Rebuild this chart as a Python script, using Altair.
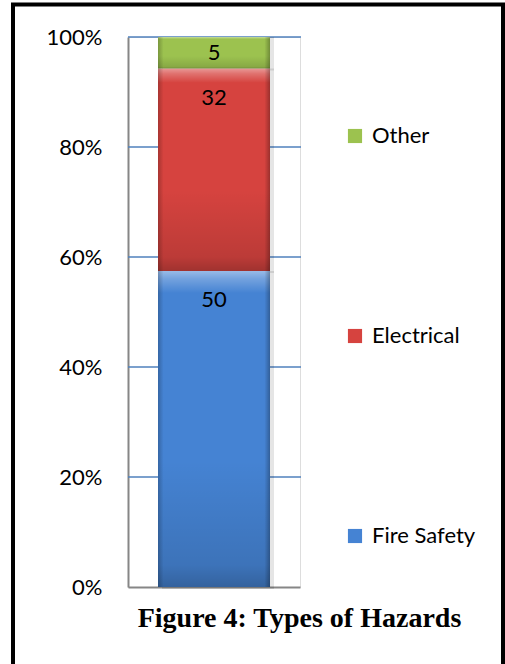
import altair as alt
import pandas as pd

# Hazard categories, counts and fill colours (bottom to top of the stack)
hazards = ["Fire Safety", "Electrical", "Other"]
counts = [50, 32, 5]
fills = ["#4583d3", "#d6433f", "#9cc24f"]
tick_values = [0, 0.2, 0.4, 0.6, 0.8, 1.0]
legend_order = ["Other", "Electrical", "Fire Safety"]
caption = "Figure 4: Types of Hazards"

df = pd.DataFrame({
    "group": ["Hazards"] * len(hazards),
    "hazard": hazards,
    "count": counts,
    "rank": list(range(len(hazards))),
})
grid_df = pd.DataFrame({"tick": tick_values[1:]})

color_scale = alt.Scale(
    domain=legend_order,
    range=[fills[hazards.index(h)] for h in legend_order],
)

x_axis = alt.Axis(labels=False, ticks=False, title=None, grid=False,
                  domainColor="#868686", domainWidth=2)
y_axis = alt.Axis(
    format=".0%", values=tick_values, title=None, ticks=False, grid=False,
    domainColor="#868686", domainWidth=2,
    labelFont="Lato", labelFontSize=22, labelColor="#000000",
    labelPadding=26,
)
x_enc = alt.X("group:N", axis=x_axis)
y_scale = alt.Scale(domain=[0, 1])

# Horizontal gridlines
grid = alt.Chart(grid_df).mark_rule(color="#4f81bd", strokeWidth=1.6).encode(
    y=alt.Y("tick:Q", scale=y_scale, axis=y_axis),
    x=alt.value(0),
    x2=alt.value(173),
)

base = alt.Chart(df).transform_stack(
    stack="count",
    as_=["y0", "y1"],
    groupby=["group"],
    offset="normalize",
    sort=[alt.SortField("rank", order="ascending")],
)

# Soft drop shadow behind the column
shadow = base.mark_bar(size=112, xOffset=4, yOffset=2, fill="#000000", opacity=0.10).encode(
    x=x_enc, y=alt.Y("y0:Q", scale=y_scale, axis=y_axis), y2="y1:Q"
)

bars = base.mark_bar(size=112, strokeWidth=0).encode(
    x=x_enc,
    y=alt.Y("y0:Q", scale=y_scale, axis=y_axis),
    y2="y1:Q",
    color=alt.Color(
        "hazard:N",
        scale=color_scale,
        legend=alt.Legend(
            title=None, orient="none", legendX=216, legendY=88,
            symbolType="square", symbolSize=200, symbolStrokeWidth=0,
            symbolOpacity=1, labelFont="Lato", labelFontSize=22,
            labelColor="#000000", labelOffset=6, rowPadding=178,
        ),
    ),
)

# Bevel shading: light top edge, darker lower edge
shade_v = base.mark_bar(
    size=112,
    fill=alt.LinearGradient(
        gradient="linear", x1=0, x2=0, y1=0, y2=1,
        stops=[
            alt.GradientStop(color="rgba(255,255,255,0.45)", offset=0),
            alt.GradientStop(color="rgba(255,255,255,0.25)", offset=0.025),
            alt.GradientStop(color="rgba(255,255,255,0.0)", offset=0.07),
            alt.GradientStop(color="rgba(0,0,0,0.0)", offset=0.6),
            alt.GradientStop(color="rgba(0,0,0,0.12)", offset=0.93),
            alt.GradientStop(color="rgba(0,0,0,0.25)", offset=1),
        ],
    ),
).encode(x=x_enc, y=alt.Y("y0:Q", scale=y_scale, axis=y_axis), y2="y1:Q")

# Bevel shading: darker left and right edges
shade_h = base.mark_bar(
    size=112,
    fill=alt.LinearGradient(
        gradient="linear", x1=0, x2=1, y1=0, y2=0,
        stops=[
            alt.GradientStop(color="rgba(0,0,0,0.22)", offset=0),
            alt.GradientStop(color="rgba(0,0,0,0.0)", offset=0.05),
            alt.GradientStop(color="rgba(0,0,0,0.0)", offset=0.95),
            alt.GradientStop(color="rgba(0,0,0,0.28)", offset=1),
        ],
    ),
).encode(x=x_enc, y=alt.Y("y0:Q", scale=y_scale, axis=y_axis), y2="y1:Q")

# Value labels sit near the top of each segment, centred in short segments
labels = base.transform_calculate(
    pos="max(datum.y1 - 0.053, (datum.y0 + datum.y1) / 2)"
).mark_text(font="Lato", fontSize=22, color="#000000", baseline="middle").encode(
    x=x_enc,
    y=alt.Y("pos:Q", scale=y_scale, axis=y_axis),
    text="count:Q",
)

title_text = alt.Chart(pd.DataFrame({"k": [0]})).mark_text(
    font="Liberation Serif", fontSize=28, fontWeight="bold", color="#000000",
    align="center", baseline="alphabetic",
).encode(x=alt.value(171.5), y=alt.value(590), text=alt.value(caption))

frame = alt.Chart(pd.DataFrame({"k": [0]})).mark_rect(
    fill=None, stroke="#000000", strokeWidth=4
).encode(
    x=alt.value(-115), x2=alt.value(375), y=alt.value(-32.5), y2=alt.value(640)
)

chart = alt.layer(grid, shadow, bars, shade_v, shade_h, labels, title_text, frame).properties(
    width=172,
    height=550,
    autosize=alt.AutoSizeParams(type="none"),
    padding={"left": 128, "top": 37, "right": 205, "bottom": 77},
).configure_view(stroke="transparent", strokeWidth=0).configure(background="#ffffff")

chart.save("out.html", embed_options={"renderer": "svg", "actions": False})
